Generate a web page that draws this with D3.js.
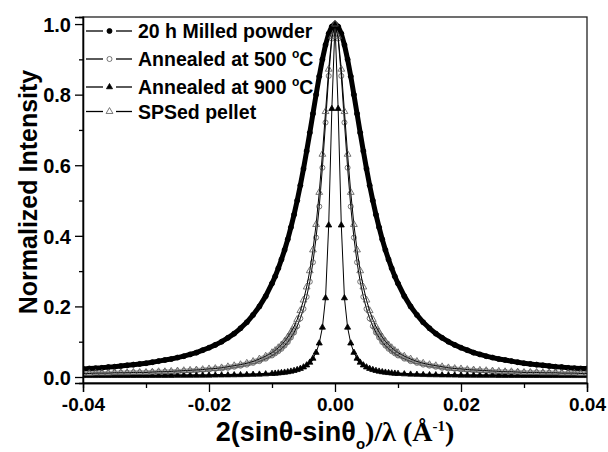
<!DOCTYPE html>
<html>
<head>
<meta charset="utf-8">
<script src="https://cdn.jsdelivr.net/npm/d3@7"></script>
<style>
    body { margin: 0; background: #fff; }
    svg { display: block; }
    text { font-family: "Liberation Sans", Arial, sans-serif; font-weight: bold; fill: #000; }
</style>
</head>
<body>
<div id="chart"></div>
<script>
// 2(sinθ-sinθo)/λ values
var xValues = [
    -0.040, -0.039, -0.038, -0.037, -0.036, -0.035, -0.034, -0.033, -0.032, -0.031,
    -0.030, -0.029, -0.028, -0.027, -0.026, -0.025, -0.024, -0.023, -0.022, -0.021,
    -0.020, -0.019, -0.018, -0.017, -0.016, -0.015, -0.014, -0.013, -0.012, -0.011,
    -0.0100, -0.0095, -0.0090, -0.0085, -0.0080, -0.0075, -0.0070, -0.0065, -0.0060, -0.0055,
    -0.0050, -0.0045, -0.0040, -0.0035, -0.0030, -0.0025, -0.0020, -0.0015, -0.0010, -0.0005,
    0,
    0.0005, 0.0010, 0.0015, 0.0020, 0.0025, 0.0030, 0.0035, 0.0040, 0.0045, 0.0050,
    0.0055, 0.0060, 0.0065, 0.0070, 0.0075, 0.0080, 0.0085, 0.0090, 0.0095, 0.0100,
    0.011, 0.012, 0.013, 0.014, 0.015, 0.016, 0.017, 0.018, 0.019, 0.020,
    0.021, 0.022, 0.023, 0.024, 0.025, 0.026, 0.027, 0.028, 0.029, 0.030,
    0.031, 0.032, 0.033, 0.034, 0.035, 0.036, 0.037, 0.038, 0.039, 0.040
];

var milled20h = [
    0.023, 0.024, 0.025, 0.026, 0.028, 0.029, 0.031, 0.033, 0.035, 0.037,
    0.039, 0.042, 0.045, 0.048, 0.051, 0.055, 0.059, 0.064, 0.069, 0.076,
    0.083, 0.091, 0.100, 0.111, 0.123, 0.138, 0.155, 0.176, 0.200, 0.229,
    0.265, 0.285, 0.308, 0.333, 0.360, 0.390, 0.424, 0.460, 0.500, 0.543,
    0.590, 0.640, 0.692, 0.746, 0.800, 0.852, 0.900, 0.941, 0.973, 0.993,
    1.000,
    0.993, 0.973, 0.941, 0.900, 0.852, 0.800, 0.746, 0.692, 0.640, 0.590,
    0.543, 0.500, 0.460, 0.424, 0.390, 0.360, 0.333, 0.308, 0.285, 0.265,
    0.229, 0.200, 0.176, 0.155, 0.138, 0.123, 0.111, 0.100, 0.091, 0.083,
    0.076, 0.069, 0.064, 0.059, 0.055, 0.051, 0.048, 0.045, 0.042, 0.039,
    0.037, 0.035, 0.033, 0.031, 0.029, 0.028, 0.026, 0.025, 0.024, 0.024
];

var annealed500 = [
    0.011, 0.011, 0.011, 0.011, 0.011, 0.012, 0.012, 0.012, 0.013, 0.013,
    0.013, 0.014, 0.014, 0.015, 0.015, 0.016, 0.017, 0.018, 0.019, 0.020,
    0.021, 0.023, 0.024, 0.026, 0.029, 0.032, 0.035, 0.040, 0.045, 0.052,
    0.061, 0.067, 0.073, 0.080, 0.089, 0.099, 0.112, 0.126, 0.144, 0.166,
    0.193, 0.227, 0.270, 0.325, 0.395, 0.483, 0.593, 0.721, 0.853, 0.959,
    1.000,
    0.959, 0.853, 0.721, 0.593, 0.483, 0.395, 0.325, 0.270, 0.227, 0.193,
    0.166, 0.144, 0.126, 0.112, 0.099, 0.089, 0.080, 0.073, 0.067, 0.061,
    0.052, 0.045, 0.040, 0.035, 0.032, 0.029, 0.026, 0.024, 0.023, 0.021,
    0.020, 0.019, 0.018, 0.017, 0.016, 0.015, 0.015, 0.014, 0.014, 0.013,
    0.013, 0.013, 0.012, 0.012, 0.012, 0.011, 0.011, 0.011, 0.011, 0.011
];

var annealed900 = [
    0.0034, 0.0034, 0.0034, 0.0035, 0.0035, 0.0035, 0.0035, 0.0036, 0.0036, 0.0037,
    0.0037, 0.0038, 0.0038, 0.0039, 0.0039, 0.0040, 0.0041, 0.0042, 0.0043, 0.0044,
    0.0046, 0.0048, 0.0050, 0.0052, 0.0055, 0.0058, 0.0062, 0.0068, 0.0074, 0.0082,
    0.0093, 0.0100, 0.0108, 0.0118, 0.0129, 0.0142, 0.0159, 0.0179, 0.0204, 0.0237,
    0.0279, 0.0335, 0.0413, 0.0525, 0.0692, 0.0956, 0.1405, 0.2237, 0.430, 0.760,
    1.000,
    0.760, 0.430, 0.2237, 0.1405, 0.0956, 0.0692, 0.0525, 0.0413, 0.0335, 0.0279,
    0.0237, 0.0204, 0.0179, 0.0159, 0.0142, 0.0129, 0.0118, 0.0108, 0.0100, 0.0093,
    0.0082, 0.0074, 0.0068, 0.0062, 0.0058, 0.0055, 0.0052, 0.0050, 0.0048, 0.0046,
    0.0044, 0.0043, 0.0042, 0.0041, 0.0040, 0.0039, 0.0039, 0.0038, 0.0038, 0.0037,
    0.0037, 0.0036, 0.0036, 0.0035, 0.0035, 0.0035, 0.0035, 0.0034, 0.0034, 0.0034
];

var spsedPellet = [
    0.010, 0.010, 0.011, 0.011, 0.011, 0.012, 0.012, 0.012, 0.013, 0.013,
    0.013, 0.014, 0.015, 0.015, 0.016, 0.017, 0.018, 0.019, 0.020, 0.021,
    0.023, 0.024, 0.026, 0.029, 0.032, 0.035, 0.039, 0.044, 0.051, 0.059,
    0.069, 0.075, 0.083, 0.091, 0.101, 0.113, 0.127, 0.143, 0.163, 0.188,
    0.218, 0.255, 0.301, 0.360, 0.432, 0.523, 0.631, 0.752, 0.872, 0.965,
    1.000,
    0.965, 0.872, 0.752, 0.631, 0.523, 0.432, 0.360, 0.301, 0.255, 0.218,
    0.188, 0.163, 0.143, 0.127, 0.113, 0.101, 0.091, 0.083, 0.075, 0.069,
    0.059, 0.051, 0.044, 0.039, 0.035, 0.032, 0.029, 0.026, 0.024, 0.023,
    0.021, 0.020, 0.019, 0.018, 0.017, 0.016, 0.015, 0.015, 0.014, 0.013,
    0.013, 0.013, 0.012, 0.012, 0.012, 0.011, 0.011, 0.011, 0.010, 0.010
];

var seriesNames = ["20 h Milled powder", "Annealed at 500 °C", "Annealed at 900 °C", "SPSed pellet"];
var xMajorTicks = [-0.04, -0.02, 0.00, 0.02, 0.04];
var xMinorTicks = [-0.03, -0.01, 0.01, 0.03];
var yMajorTicks = [0.0, 0.2, 0.4, 0.6, 0.8, 1.0];
var yMinorTicks = [0.1, 0.3, 0.5, 0.7, 0.9];

(function() {
    var W = 608, H = 452;
    var pLeft = 83, pRight = 587, pTop = 17, pBottom = 383;

    var svg = d3.select("#chart").append("svg").attr("width", W).attr("height", H);

    var x = d3.scaleLinear().domain([-0.04, 0.04]).range([pLeft, pRight]);
    var y = d3.scaleLinear().domain([-0.017, 1.02]).range([pBottom, pTop]);

    // hyphen instead of unicode minus, like the original
    var fmt2 = d3.formatLocale({decimal: ".", thousands: ",", grouping: [3], currency: ["", ""], minus: "-"}).format(".2f");
    var fmt1 = d3.format(".1f");

    svg.append("clipPath").attr("id", "plotclip")
        .append("rect").attr("x", pLeft).attr("y", pTop).attr("width", pRight - pLeft).attr("height", pBottom - pTop);

    // series styles: symbol, fill, band under the markers (only where y is below "below")
    var styles = [
        {symbol: d3.symbolCircle, size: 20, fill: "#000", stroke: "#000", band: {color: "#000", width: 5, below: 2}},
        {symbol: d3.symbolCircle, size: 20, fill: "none", stroke: "#555", band: {color: "#a0a0a0", width: 4, below: 0.16}},
        {symbol: d3.symbolTriangle, size: 16, fill: "#000", stroke: "#000", band: {color: "#000", width: 2.5, below: 0.06}},
        {symbol: d3.symbolTriangle, size: 20, fill: "none", stroke: "#555", band: {color: "#a8a8a8", width: 4, below: 0.16}}
    ];
    var values = [milled20h, annealed500, annealed900, spsedPellet];

    var series = values.map(function(v, i) {
        return {name: seriesNames[i], style: styles[i], points: xValues.map(function(xv, j) { return {x: xv, y: v[j]}; })};
    });

    var plot = svg.append("g").attr("clip-path", "url(#plotclip)");

    series.forEach(function(s) {
        var g = plot.append("g");
        var band = s.style.band;
        g.append("path")
            .datum(s.points)
            .attr("fill", "none")
            .attr("stroke", band.color)
            .attr("stroke-width", band.width)
            .attr("stroke-linejoin", "round")
            .attr("d", d3.line().defined(function(d) { return d.y < band.below; })
                .x(function(d) { return x(d.x); }).y(function(d) { return y(d.y); }));
        g.append("path")
            .datum(s.points)
            .attr("fill", "none")
            .attr("stroke", "#000")
            .attr("stroke-width", 1)
            .attr("d", d3.line().x(function(d) { return x(d.x); }).y(function(d) { return y(d.y); }));
        g.selectAll("path.pt")
            .data(s.points)
            .enter().append("path")
            .attr("class", "pt")
            .attr("transform", function(d) { return "translate(" + x(d.x) + "," + y(d.y) + ")"; })
            .attr("d", d3.symbol().type(s.style.symbol).size(s.style.size))
            .attr("fill", s.style.fill)
            .attr("stroke", s.style.stroke)
            .attr("stroke-width", 0.8);
    });

    // frame
    svg.append("rect")
        .attr("x", pLeft).attr("y", pTop)
        .attr("width", pRight - pLeft).attr("height", pBottom - pTop)
        .attr("fill", "none").attr("stroke", "#222").attr("stroke-width", 1.3);

    // axes
    var xAxis = svg.append("g").attr("transform", "translate(0," + pBottom + ")")
        .call(d3.axisBottom(x).tickValues(xMajorTicks).tickSize(9).tickPadding(3).tickFormat(fmt2));
    var xMinor = svg.append("g").attr("transform", "translate(0," + pBottom + ")")
        .call(d3.axisBottom(x).tickValues(xMinorTicks).tickSize(5).tickFormat(""));
    var yAxis = svg.append("g").attr("transform", "translate(" + pLeft + ",0)")
        .call(d3.axisLeft(y).tickValues(yMajorTicks).tickSize(8).tickPadding(4).tickFormat(fmt1));
    var yMinor = svg.append("g").attr("transform", "translate(" + pLeft + ",0)")
        .call(d3.axisLeft(y).tickValues(yMinorTicks).tickSize(4).tickFormat(""));

    [xAxis, xMinor, yAxis, yMinor].forEach(function(a) {
        a.select(".domain").attr("stroke", "#000").attr("stroke-width", 1.3);
        a.selectAll(".tick line").attr("stroke", "#000").attr("stroke-width", 1.3);
        a.selectAll("text").attr("font-size", 20).attr("font-family", null).attr("fill", "#000");
    });
    xAxis.selectAll("text").attr("font-size", 19).attr("dy", "0.85em");
    yAxis.selectAll("text").attr("dy", "0.36em");

    // legend
    var legend = svg.append("g");
    var ly = 31;
    series.forEach(function(s, i) {
        var hasSup = s.name.indexOf("°") >= 0;
        if (i > 0) ly += 24.5 + (hasSup ? 3.5 : 0);
        var row = legend.append("g").attr("transform", "translate(0," + ly + ")");
        row.append("line").attr("x1", 86).attr("x2", 103).attr("stroke", "#000").attr("stroke-width", 1.3);
        row.append("line").attr("x1", 116).attr("x2", 132).attr("stroke", "#000").attr("stroke-width", 1.3);
        row.append("path")
            .attr("transform", "translate(109.5,0)")
            .attr("d", d3.symbol().type(s.style.symbol).size(s.style.size))
            .attr("fill", s.style.fill === "none" ? "#fff" : s.style.fill)
            .attr("stroke", s.style.stroke).attr("stroke-width", 0.8);
        var t = row.append("text").attr("x", 138).attr("y", 7).attr("font-size", 19.5);
        if (hasSup) {
            var parts = s.name.split("°");
            t.append("tspan").text(parts[0]);
            t.append("tspan").attr("font-size", 12).attr("dy", -8).text("o");
            t.append("tspan").attr("dy", 8).text(parts[1]);
        } else {
            t.text(s.name);
        }
    });

    // axis titles
    svg.append("text")
        .attr("transform", "translate(37,192) rotate(-90)")
        .attr("text-anchor", "middle")
        .attr("font-size", 25)
        .text("Normalized Intensity");

    var serif = "'Liberation Serif', 'Times New Roman', serif";
    var xt = svg.append("text")
        .attr("x", (pLeft + pRight) / 2).attr("y", 441)
        .attr("text-anchor", "middle")
        .attr("font-size", 27);
    xt.append("tspan").text("2(sinθ-sinθ");
    xt.append("tspan").attr("font-size", 15).attr("dy", 8).text("o");
    xt.append("tspan").attr("font-family", serif).attr("font-size", 28).attr("dy", -8).text(")/λ (Å");
    xt.append("tspan").attr("font-family", serif).attr("font-size", 15).attr("dy", -10).text("-1");
    xt.append("tspan").attr("font-family", serif).attr("font-size", 28).attr("dy", 10).text(")");
})();
</script>
</body>
</html>
